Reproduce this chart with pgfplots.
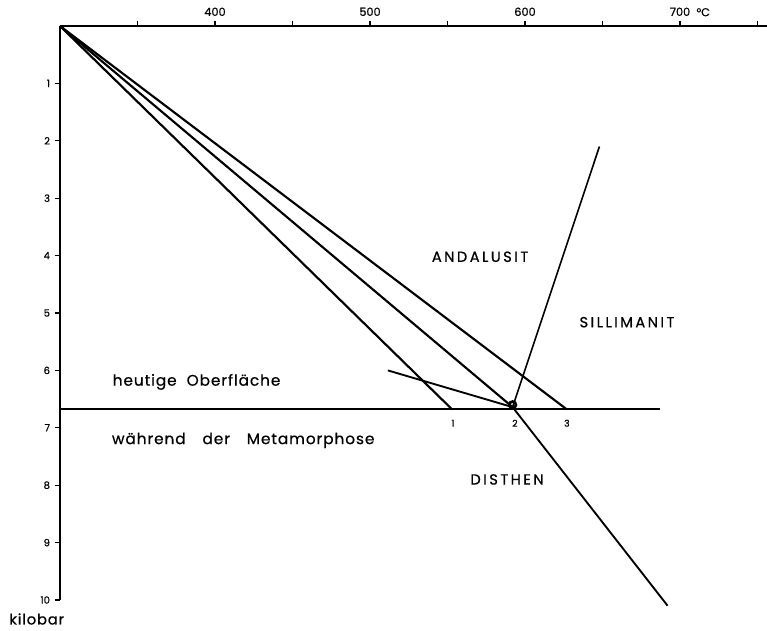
\documentclass[border=0pt]{standalone}
\usepackage{fontspec}
\setmainfont{Poppins}[FakeBold=0.6]
\newfontfamily\labfont{Poppins}[FakeBold=0.6, LetterSpace=6]
\usepackage{pgfplots}
\pgfplotsset{compat=1.18}
\begin{document}
\begin{tikzpicture}
\begin{axis}[
  x=1.1625pt, y=43.05pt,
  y dir=reverse,
  xmin=300, xmax=756, ymin=0, ymax=10,
  axis x line*=top,
  axis y line*=left,
  axis line style={line width=1.3pt, -},
  tick align=outside,
  xtick={350,400,...,750},
  xticklabels={,400,,500,,600,,700,},
  ytick={1,...,10},
  major tick length=4pt,
  tick style={black, line width=0.9pt},
  xticklabel style={font=\fontsize{8.5}{10}\selectfont},
  yticklabel style={font=\fontsize{7.5}{9}\selectfont},
  /pgf/number format/assume math mode=true,
  clip=false,
]
% reference point for the page frame
\coordinate (O) at (axis cs:300,0);

% present-day surface level
\addplot[black, line width=1.5pt] coordinates {(300,6.68) (687,6.68)};

% geotherms from the surface
\addplot[black, line width=1.6pt] coordinates {(300,0) (553,6.68)};
\addplot[black, line width=1.6pt] coordinates {(300,0) (592,6.64)};
\addplot[black, line width=1.6pt] coordinates {(300,0) (627,6.68)};

% Al2SiO5 phase boundaries
\addplot[black, line width=1.2pt] coordinates {(648,2.1) (592,6.64)};
\addplot[black, line width=1.4pt] coordinates {(511.5,6.0) (592,6.64)};
\addplot[black, line width=1.4pt] coordinates {(592,6.64) (692,10.1)};

% triple point
\addplot[black, only marks, mark=o, mark size=2.5pt, mark options={line width=2pt}] coordinates {(592,6.6)};

% phase fields
\node[font=\fontsize{11}{12}\selectfont] at (axis cs:571,4.02) {A\,N\,D\,A\,L\,U\,S\,I\,T};
\node[font=\fontsize{11}{12}\selectfont] at (axis cs:665.8,5.16) {S\,I\,L\,L\,I\,M\,A\,N\,I\,T};
\node[font=\fontsize{11}{12}\selectfont] at (axis cs:588.4,7.9) {D\,I\,S\,T\,H\,E\,N};

% surface labels
\node[anchor=west, font=\labfont\fontsize{11.5}{13}\selectfont] at (axis cs:331,6.2) {heutige\ \ Oberfläche};
\node[anchor=west, font=\labfont\fontsize{11.5}{13}\selectfont] at (axis cs:330.5,7.22) {während\hspace{1.1em}der\hspace{1.1em}Metamorphose};

% geotherm numbers
\node[font=\fontsize{7}{8}\selectfont] at (axis cs:553.5,6.92) {1};
\node[font=\fontsize{7}{8}\selectfont] at (axis cs:593.5,6.92) {2};
\node[font=\fontsize{7}{8}\selectfont] at (axis cs:627,6.92) {3};

% units
\node[font=\fontsize{8.5}{10}\selectfont] at (axis cs:715,-0.24) {°C};
\node[font=\labfont\fontsize{11}{13}\selectfont] at (axis cs:285,10.33) {kilobar};
\end{axis}
\pgfresetboundingbox
\path[use as bounding box] ([shift={(-45pt,19.5pt)}]O) rectangle ([shift={(530.25pt,-453.75pt)}]O);
\end{tikzpicture}
\end{document}
